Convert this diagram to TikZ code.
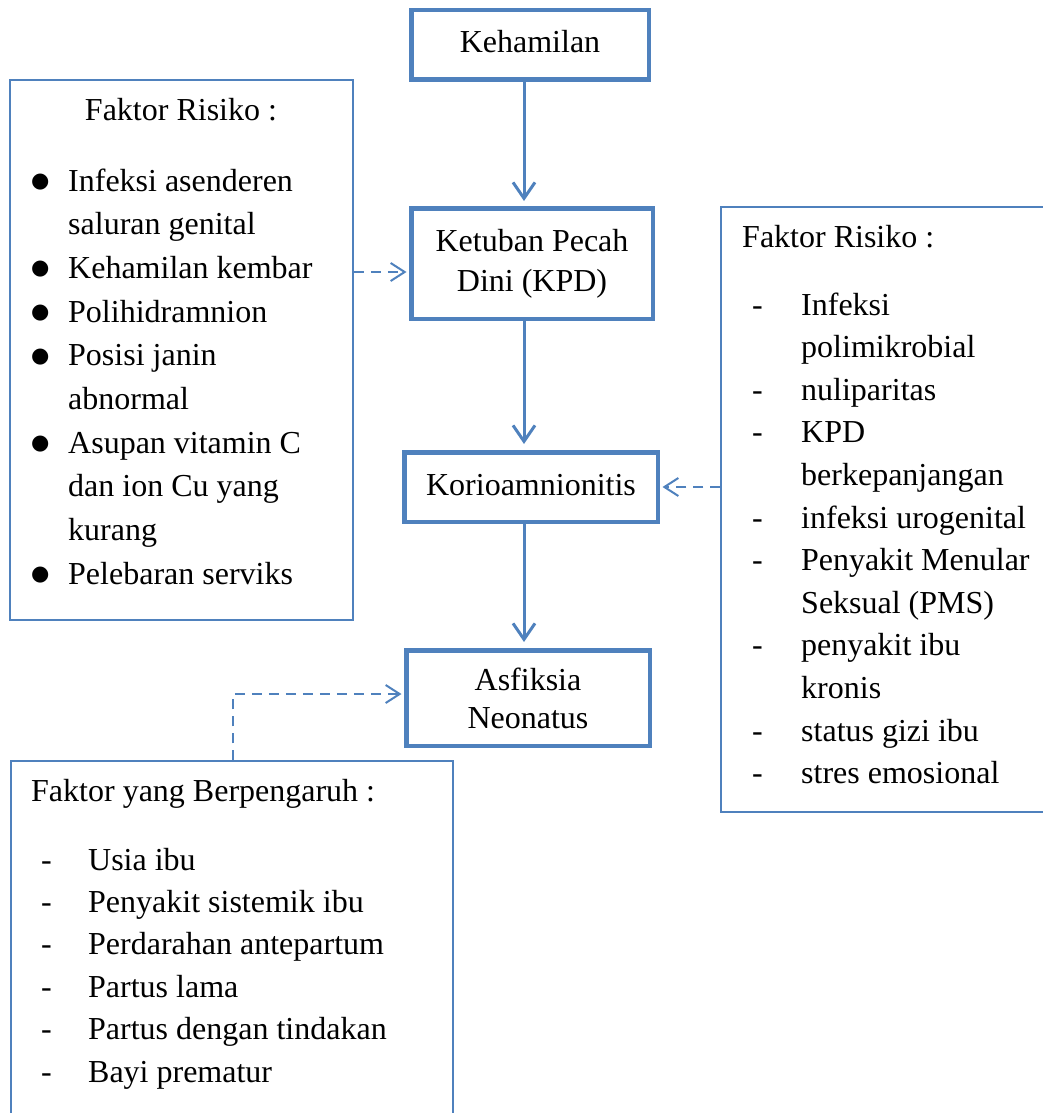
\documentclass[tikz,border=0pt]{standalone}
\usepackage{fontspec}
\setmainfont{Liberation Serif}
\newfontfamily\djv{DejaVu Sans}
\usetikzlibrary{arrows.meta}
\definecolor{bl}{HTML}{4F81BD}
\newcommand\bul{\makebox[37pt][l]{\raisebox{3.5pt}{\djv\fontsize{21}{21}\selectfont ●}}}
\newcommand\dshr{\makebox[49pt][l]{-}}
\newcommand\dshb{\makebox[47pt][l]{-}}
\begin{document}
\begin{tikzpicture}[x=1pt,y=-1pt,
  mainbox/.style={draw=bl, line width=4.5pt, inner sep=0pt, align=center},
  sidebox/.style={draw=bl, line width=1.5pt, inner sep=0pt},
  txt/.style={inner sep=0pt, font=\fontsize{32}{42}\selectfont},
  solidarrow/.style={draw=bl, line width=3pt, -{Straight Barb[length=16pt,width=22pt]}},
  dasharrow/.style={draw=bl, line width=2pt, dash pattern=on 10pt off 7pt, -{Straight Barb[length=14pt,width=18pt]}},
]
\useasboundingbox (0,0) rectangle (1043,1113);

% main flow boxes
\node[mainbox, minimum width=237.5pt, minimum height=69.5pt, text height=22pt, text depth=6pt,
      font=\fontsize{32}{40}\selectfont] (keh) at (530,45) {Kehamilan};
\node[mainbox, minimum width=241.5pt, minimum height=110.5pt,
      font=\fontsize{32}{40}\selectfont] (kpd) at (532,263.5) {Ketuban Pecah\\Dini (KPD)};
\node[mainbox, minimum width=253.5pt, minimum height=69.5pt, text height=22pt, text depth=6pt,
      font=\fontsize{32}{40}\selectfont] (kor) at (531,487) {Korioamnionitis};
\node[mainbox, minimum width=243.5pt, minimum height=95.5pt,
      font=\fontsize{32}{38}\selectfont] (asf) at (528,698) {Asfiksia\\Neonatus};

% side boxes
\node[sidebox, minimum width=343pt, minimum height=540pt] (lb) at (181.5,350) {};
\node[sidebox, minimum width=339pt, minimum height=605pt] (rb) at (890.5,509.5) {};
\node[sidebox, minimum width=442pt, minimum height=369pt] (bb) at (232,945.5) {};

% left box text
\node[txt, anchor=base] (lbt) at (181,121) {Faktor Risiko :};
\node[txt, anchor=base west, font=\fontsize{32}{43.7}\selectfont] (lbl) at (31,191) {%
\begin{tabular}[t]{@{}l@{}}
\bul Infeksi asenderen\\
\hspace{37pt}saluran genital\\
\bul Kehamilan kembar\\
\bul Polihidramnion\\
\bul Posisi janin\\
\hspace{37pt}abnormal\\
\bul Asupan vitamin C\\
\hspace{37pt}dan ion Cu yang\\
\hspace{37pt}kurang\\
\bul Pelebaran serviks
\end{tabular}};

% right box text
\node[txt, anchor=base west] (rbt) at (742,247) {Faktor Risiko :};
\node[txt, anchor=base west, font=\fontsize{32}{42.6}\selectfont] (rbl) at (752,315) {%
\begin{tabular}[t]{@{}l@{}}
\dshr Infeksi\\
\hspace{49pt}polimikrobial\\
\dshr nuliparitas\\
\dshr KPD\\
\hspace{49pt}berkepanjangan\\
\dshr infeksi urogenital\\
\dshr Penyakit Menular\\
\hspace{49pt}Seksual (PMS)\\
\dshr penyakit ibu\\
\hspace{49pt}kronis\\
\dshr status gizi ibu\\
\dshr stres emosional
\end{tabular}};

% bottom box text
\node[txt, anchor=base west] (bbt) at (31,801) {Faktor yang Berpengaruh :};
\node[txt, anchor=base west, font=\fontsize{32}{42.4}\selectfont] (bbl) at (41,870) {%
\begin{tabular}[t]{@{}l@{}}
\dshb Usia ibu\\
\dshb Penyakit sistemik ibu\\
\dshb Perdarahan antepartum\\
\dshb Partus lama\\
\dshb Partus dengan tindakan\\
\dshb Bayi prematur
\end{tabular}};

% connectors
\coordinate (ax) at (524,0);
\draw[solidarrow, shorten >=5pt] (keh.south -| ax) -- (kpd.north -| ax);
\draw[solidarrow, shorten >=6pt] (kpd.south -| ax) -- (kor.north -| ax);
\draw[solidarrow, shorten >=6pt] (kor.south -| ax) -- (asf.north -| ax);

\coordinate (ly) at (0,272);
\draw[dasharrow, shorten >=2.5pt] (lb.east |- ly) -- (kpd.west |- ly);
\draw[dasharrow, shorten >=2.5pt] (rb.west |- kor.east) -- (kor.east);
\coordinate (bc) at (233,694);
\draw[dasharrow, shorten >=2.5pt] (bb.north -| bc) -- (bc) -- (bc -| asf.west);
\end{tikzpicture}
\end{document}
